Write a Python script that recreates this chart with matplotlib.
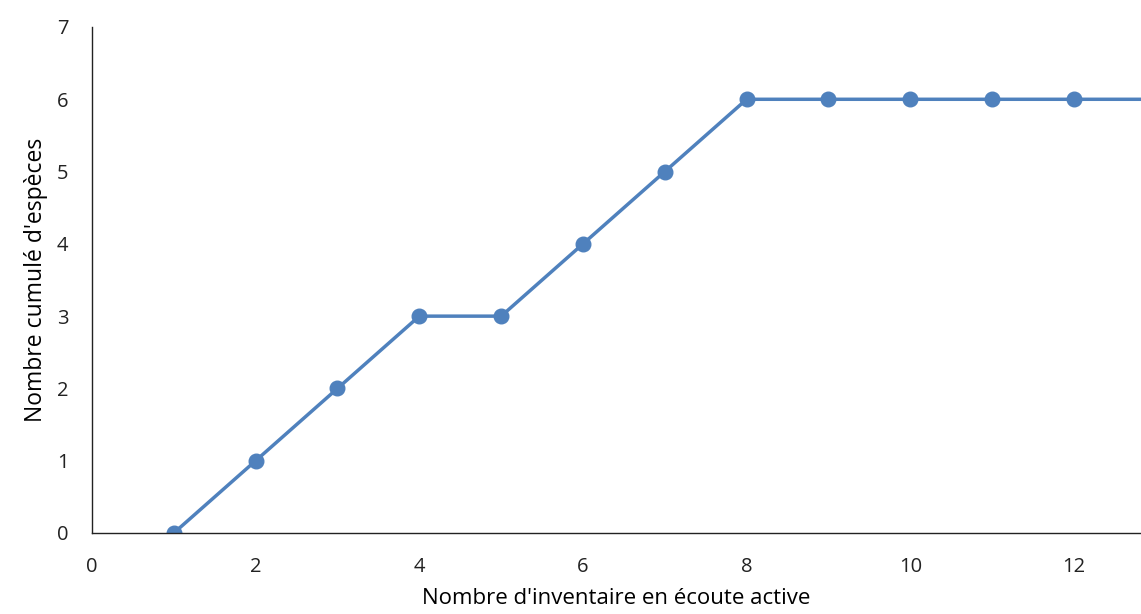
import matplotlib
matplotlib.use("Agg")
import matplotlib.pyplot as plt

# Cumulative species count per active-listening survey
inventaires = [1, 2, 3, 4, 5, 6, 7, 8, 9, 10, 11, 12, 13]
especes_cumulees = [0, 1, 2, 3, 3, 4, 5, 6, 6, 6, 6, 6, 6]
x_ticks = [0, 2, 4, 6, 8, 10, 12]
y_ticks = [0, 1, 2, 3, 4, 5, 6, 7]

plt.rcParams['font.family'] = ['Open Sans', 'DejaVu Sans']

fig = plt.figure(figsize=(11.41, 6.14), dpi=100)
ax = fig.add_axes([92 / 1141, 81 / 614, 1 - 92 / 1141, (533 - 27) / 614])

ax.plot(inventaires, especes_cumulees, color='#4F81BD', linewidth=2.5,
        marker='o', markersize=10.5, clip_on=True)

ax.set_xlim(0, (1141 - 92) / ((1074 - 92) / 12))
ax.set_ylim(0, 7)
ax.set_xticks(x_ticks)
ax.set_yticks(y_ticks)
ax.tick_params(length=0, labelsize=14.5, colors='#222222')
ax.tick_params(axis='x', pad=17)
ax.tick_params(axis='y', pad=17)

for side in ('top', 'right'):
    ax.spines[side].set_visible(False)
for side in ('left', 'bottom'):
    ax.spines[side].set_color('#222222')
    ax.spines[side].set_linewidth(1.0)

ax.set_xlabel("Nombre d'inventaire en écoute active", fontsize=16, labelpad=8)
ax.set_ylabel("Nombre cumulé d'espèces", fontsize=16.5, labelpad=6)

fig.savefig("out.png", dpi=100)
